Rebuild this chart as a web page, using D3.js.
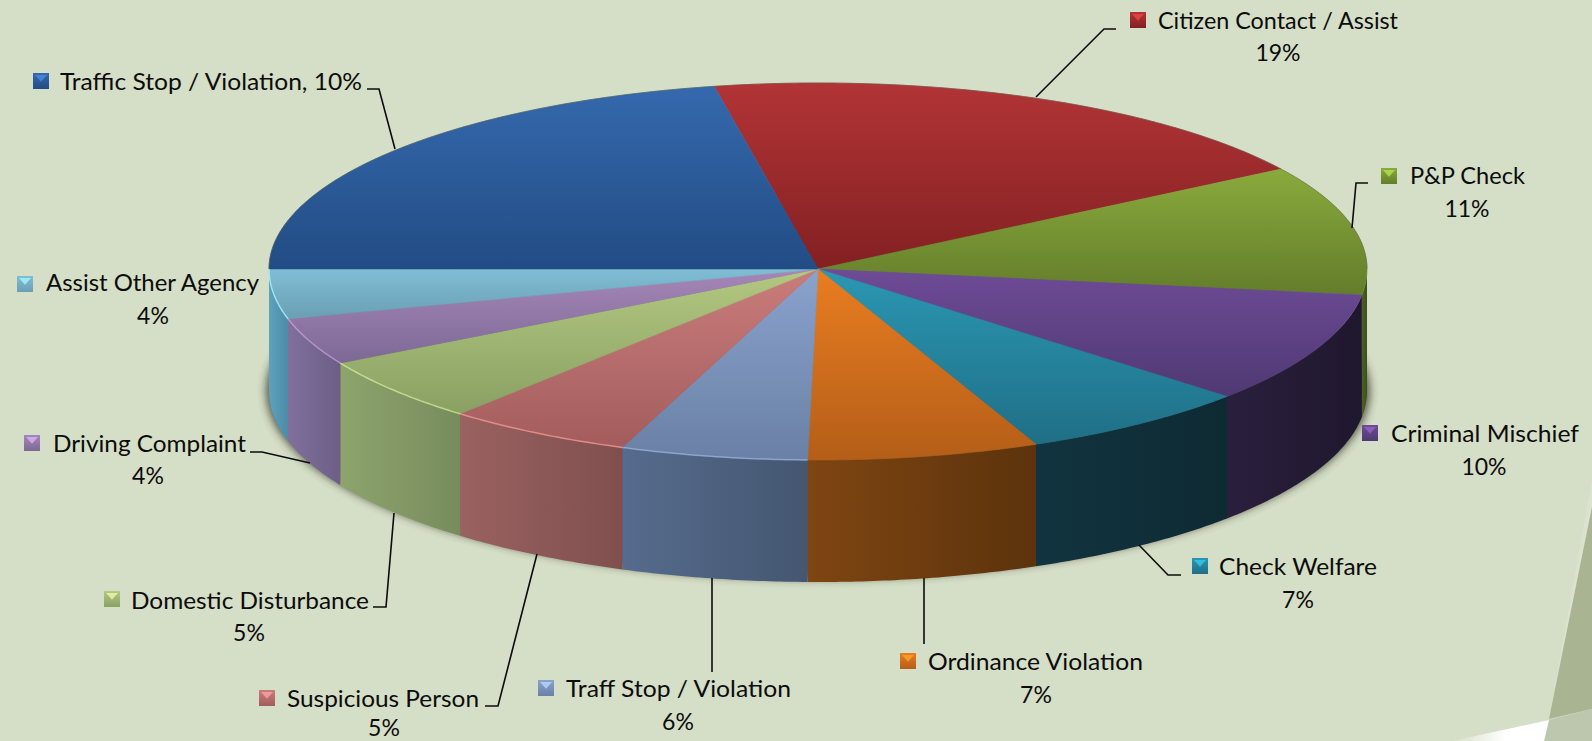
<!DOCTYPE html>
<html>
<head>
<meta charset="utf-8">
<script src="https://cdn.jsdelivr.net/npm/d3@7"></script>
<style>
    html, body { margin: 0; padding: 0; background: #d5dec6; }
    svg { display: block; }
    text { font-family: Lato, "Noto Sans", sans-serif; fill: #0c0c0c; }
</style>
</head>
<body>
<svg id="graph" width="1592" height="741"></svg>
<script>
// clockwise from the blue/red edge, same order as the picture
const categories = ["Citizen Contact / Assist", "P&P Check", "Criminal Mischief", "Check Welfare",
    "Ordinance Violation", "Traff Stop / Violation", "Suspicious Person", "Domestic Disturbance",
    "Driving Complaint", "Assist Other Agency", "Traffic Stop / Violation"];
// slice shares as drawn, the blue one is much bigger than its printed label
const shares = [19, 11.2, 9.45, 6.88, 6.8, 5.5, 5.5, 5.5, 4, 4.2, 21.97];
const pctLabels = ["19%", "11%", "10%", "7%", "7%", "6%", "5%", "5%", "4%", "4%", "10%"];

const topLight = ["#b23436", "#8aaa3c", "#6e4b96", "#2b97b3", "#e97d21", "#8aa3cd", "#c97d7b", "#b3c881", "#a587b8", "#80bed6", "#3569ad"];
const topDark = ["#832022", "#637d2b", "#4f3973", "#1f6f86", "#b45e18", "#6a80a5", "#a35c5d", "#8aa063", "#7d6995", "#6a9fb4", "#224c84"];
const wallLight = ["#5a1618", "#4d6122", "#2a1f3d", "#113440", "#7f4512", "#566b8d", "#9a6261", "#8ea46d", "#80709c", "#5da2bd", "#1a3a63"];
const wallDark = ["#4a1214", "#3d4e1b", "#1f172e", "#0e2a33", "#5c330c", "#445670", "#7f4f4e", "#778c5c", "#6d5e87", "#4d8ba7", "#142c4c"];
// how strong the light front edge is on each slice
const bevel = [0, 0, 0, 0, 0, 0.5, 0.7, 0.6, 0.6, 0.8, 0];

// label layout: key box left/top, name start + width + baseline, percent centre + baseline, leader
const layout = [
    { kx: 1130, ky: 12, tx: 1158, tw: 240, ty: 29, px: 1278, py: 61, lead: [[1116, 29], [1104, 29], [1036, 97]] },
    { kx: 1381, ky: 168, tx: 1410, tw: 115, ty: 184, px: 1467, py: 217, lead: [[1368, 183], [1356, 183], [1352, 228]] },
    { kx: 1362, ky: 425, tx: 1391, tw: 188, ty: 442, px: 1484, py: 475, lead: [] },
    { kx: 1192, ky: 558, tx: 1219, tw: 158, ty: 575, px: 1298, py: 608, lead: [[1181, 575], [1168, 575], [1139, 545]] },
    { kx: 900, ky: 653, tx: 928, tw: 215, ty: 670, px: 1036, py: 703, lead: [[924, 644], [924, 578]] },
    { kx: 538, ky: 680, tx: 566, tw: 225, ty: 697, px: 678, py: 730, lead: [[712, 672], [712, 578]] },
    { kx: 259, ky: 690, tx: 287, tw: 192, ty: 707, px: 384, py: 736, lead: [[485, 706], [498, 706], [537, 554]] },
    { kx: 104, ky: 591, tx: 131, tw: 238, ty: 609, px: 249, py: 641, lead: [[373, 607], [386, 607], [394, 513]] },
    { kx: 24, ky: 435, tx: 53, tw: 193, ty: 452, px: 148, py: 484, lead: [[250, 452], [262, 452], [310, 463]] },
    { kx: 17, ky: 276, tx: 46, tw: 213, ty: 291, px: 153, py: 324, lead: [] },
    { kx: 33, ky: 73, tx: 60, tw: 302, ty: 90, px: null, py: null, lead: [[367, 89], [379, 89], [395, 149]] },
];

const cx = 818, cy = 269, rx = 549, ryBack = 186, ryFront = 191, depth = 122;
const fontSize = 23;

let svg = d3.select("#graph");
let defs = svg.append("defs");

// sin/cos of the pie angle -> screen, the front half is a bit taller
let scX = d3.scaleLinear().domain([-1, 1]).range([cx - rx, cx + rx]);
let scY = d3.scaleLinear().domain([-1, 0, 1]).range([cy - ryBack, cy, cy + ryFront]);

let rim = (a) => [scX(Math.sin(a)), scY(-Math.cos(a))];
let samples = function (a0, a1) {
    let n = Math.max(2, Math.ceil((a1 - a0) / 0.01));
    return d3.range(n + 1).map((i) => a0 + ((a1 - a0) * i) / n);
};
let lnMkr = d3.line();

let startAngle = (-10.9 * Math.PI) / 180;
let arcs = d3.pie().sort(null).startAngle(startAngle).endAngle(startAngle + 2 * Math.PI)(shares);

let addGradient = function (id, x2, y2, c0, c1, mid) {
    let g = defs.append("linearGradient").attr("id", id)
        .attr("x1", 0).attr("y1", 0).attr("x2", x2).attr("y2", y2);
    g.append("stop").attr("offset", 0).attr("stop-color", c0);
    if (mid) g.append("stop").attr("offset", mid).attr("stop-color", c1);
    g.append("stop").attr("offset", 1).attr("stop-color", c1);
};
categories.forEach(function (c, i) {
    addGradient("top" + i, 0, 1, topLight[i], topDark[i]);
    addGradient("wall" + i, 1, 0, wallLight[i], wallDark[i]);
    addGradient("key" + i, 0, 1, topLight[i], topDark[i]);
});
defs.append("filter").attr("id", "blur").attr("x", "-5%").attr("y", "-5%").attr("width", "110%").attr("height", "110%")
    .append("feGaussianBlur").attr("stdDeviation", 4);
defs.append("filter").attr("id", "soft").append("feGaussianBlur").attr("stdDeviation", 0.7);
addGradient("whiteFade", 1, 0, "#d5dec6", "#ffffff", 0.55);

// slide decoration in the lower right corner
let deco = svg.append("g");
deco.append("path").attr("d", "M1592,480L1549,719L1592,507Z").attr("fill", "#dbe2cf");
deco.append("path").attr("d", "M1592,507L1549,719L1592,709Z").attr("fill", "#a9b492");
deco.append("path").attr("d", "M1592,709L1549,720L1544,741L1592,741Z").attr("fill", "#bcc7ae");
deco.append("path").attr("d", "M1549,720L1544,741L1452,741Z").attr("fill", "url(#whiteFade)");

// drop shadow behind the drum
svg.append("ellipse")
    .attr("cx", cx).attr("cy", cy + depth)
    .attr("rx", rx + 3).attr("ry", ryBack + 2)
    .attr("fill", "#34372b").attr("opacity", 0.8)
    .attr("filter", "url(#blur)");

// side walls, only the front half of the rim shows
let frontStart = Math.PI / 2, frontEnd = (3 * Math.PI) / 2;
let norm = (a) => (a < 0 ? a + 2 * Math.PI : a);
let front = arcs.map(function (d, i) {
    return { i: i, a0: Math.max(norm(d.startAngle), frontStart), a1: Math.min(norm(d.startAngle) + (d.endAngle - d.startAngle), frontEnd) };
}).filter((d) => d.a1 > d.a0);

svg.append("g").selectAll("path")
    .data(front)
    .enter()
    .append("path")
    .attr("d", function (d) {
        let top = samples(d.a0, d.a1).map(rim);
        let bottom = top.map((p) => [p[0], p[1] + depth]).reverse();
        return lnMkr(top.concat(bottom)) + "Z";
    })
    .attr("fill", (d) => "url(#wall" + d.i + ")");

// top face
svg.append("g").selectAll("path")
    .data(arcs)
    .enter()
    .append("path")
    .attr("d", (d) => lnMkr([[cx, cy]].concat(samples(d.startAngle, d.endAngle).map(rim))) + "Z")
    .attr("fill", (d, i) => "url(#top" + i + ")")
    .attr("stroke", (d, i) => "url(#top" + i + ")")
    .attr("stroke-width", 0.6);

// thin light bevel on the front rim, grey edge on the back rim
svg.append("g").selectAll("path")
    .data(front.filter((d) => bevel[d.i] > 0))
    .enter()
    .append("path")
    .attr("d", (d) => lnMkr(samples(d.a0, d.a1).map(rim)))
    .attr("fill", "none")
    .attr("stroke", (d) => d3.color(topLight[d.i]).brighter(0.7))
    .attr("stroke-opacity", (d) => bevel[d.i])
    .attr("stroke-width", 1.5);
svg.append("path")
    .attr("d", lnMkr(samples(-Math.PI / 2, Math.PI / 2).map(rim)))
    .attr("fill", "none")
    .attr("stroke", "#5a5f50")
    .attr("stroke-opacity", 0.5)
    .attr("stroke-width", 1);

// leader lines
svg.append("g").selectAll("path")
    .data(layout.filter((d) => d.lead.length))
    .enter()
    .append("path")
    .attr("d", (d) => lnMkr(d.lead))
    .attr("fill", "none")
    .attr("stroke", "#0c0c0c")
    .attr("stroke-width", 1.6);

// legend keys + labels
let keySize = 16;
let labels = svg.append("g").selectAll("g")
    .data(categories)
    .enter()
    .append("g");

labels.append("rect")
    .attr("x", (d, i) => layout[i].kx)
    .attr("y", (d, i) => layout[i].ky)
    .attr("width", keySize)
    .attr("height", keySize)
    .attr("fill", (d, i) => "url(#key" + i + ")");
labels.append("path")
    .attr("d", function (d, i) {
        let l = layout[i];
        return lnMkr([[l.kx + 2, l.ky + 2], [l.kx + keySize - 2, l.ky + 2], [l.kx + keySize / 2, l.ky + keySize * 0.55]]) + "Z";
    })
    .attr("fill", (d, i) => d3.color(topLight[i]).brighter(0.9))
    .attr("opacity", 0.7)
    .attr("filter", "url(#soft)");

labels.append("text")
    .attr("x", (d, i) => layout[i].tx)
    .attr("y", (d, i) => layout[i].ty)
    .attr("font-size", fontSize)
    .attr("textLength", (d, i) => layout[i].tw)
    .attr("lengthAdjust", "spacingAndGlyphs")
    .text((d, i) => (layout[i].px === null ? d + ", " + pctLabels[i] : d));
labels.filter((d, i) => layout[i].px !== null)
    .append("text")
    .attr("x", (d) => layout[categories.indexOf(d)].px)
    .attr("y", (d) => layout[categories.indexOf(d)].py)
    .attr("text-anchor", "middle")
    .attr("font-size", fontSize)
    .text((d) => pctLabels[categories.indexOf(d)]);
</script>
</body>
</html>
